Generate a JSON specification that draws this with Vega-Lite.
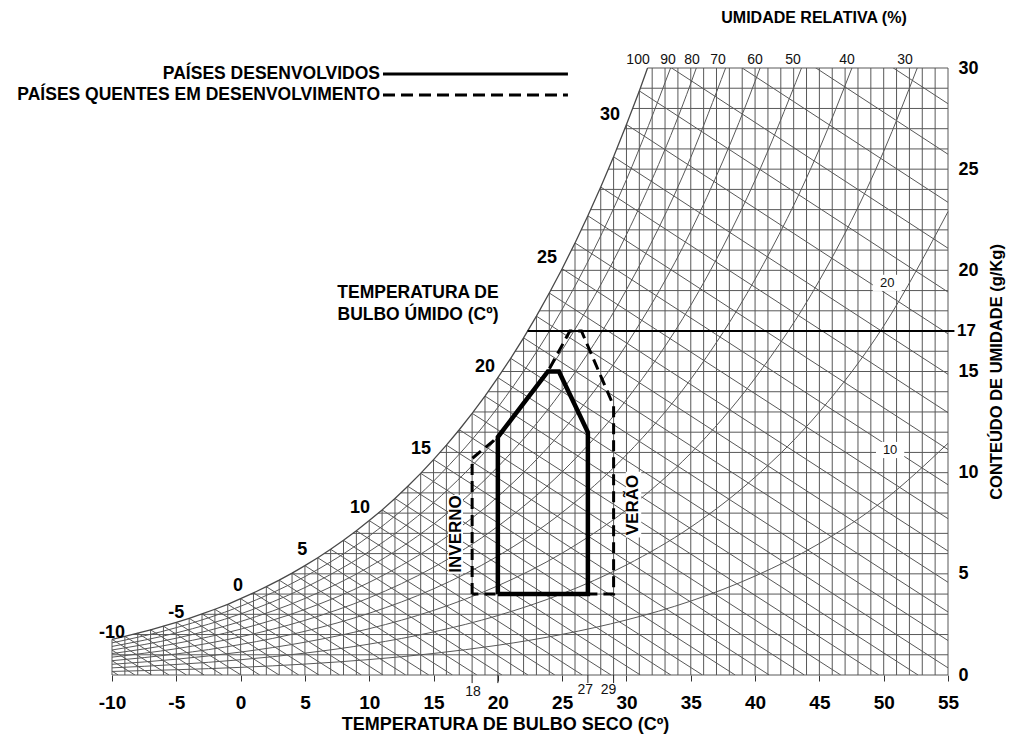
{
  "$schema": "https://vega.github.io/schema/vega-lite/v6.json",
  "width": 836,
  "height": 607,
  "autosize": {"type": "none"},
  "padding": {"left": 112, "top": 68, "right": 62, "bottom": 65},
  "background": "white",
  "config": {"view": {"stroke": null}, "font": "Liberation Sans"},
  "datasets": {
    "sat": [
      {"t": -10, "w": 1.764}, {"t": -9, "w": 1.909}, {"t": -8, "w": 2.066}, {"t": -7, "w": 2.233}, {"t": -6, "w": 2.412},
      {"t": -5, "w": 2.6}, {"t": -4, "w": 2.803}, {"t": -3, "w": 3.018}, {"t": -2, "w": 3.25}, {"t": -1, "w": 3.495},
      {"t": 0, "w": 3.775}, {"t": 1, "w": 4.06}, {"t": 2, "w": 4.364}, {"t": 3, "w": 4.689}, {"t": 4, "w": 5.034},
      {"t": 5, "w": 5.403}, {"t": 6, "w": 5.793}, {"t": 7, "w": 6.212}, {"t": 8, "w": 6.657}, {"t": 9, "w": 7.128},
      {"t": 10, "w": 7.631}, {"t": 11, "w": 8.16}, {"t": 12, "w": 8.727}, {"t": 13, "w": 9.327}, {"t": 14, "w": 9.966},
      {"t": 15, "w": 10.646}, {"t": 16, "w": 11.364}, {"t": 17, "w": 12.122}, {"t": 18, "w": 12.934}, {"t": 19, "w": 13.785},
      {"t": 20, "w": 14.697}, {"t": 21, "w": 15.651}, {"t": 22, "w": 16.666}, {"t": 23, "w": 17.735}, {"t": 24, "w": 18.88},
      {"t": 25, "w": 20.081}, {"t": 26, "w": 21.354}, {"t": 27, "w": 22.695}, {"t": 28, "w": 24.117}, {"t": 29, "w": 25.61},
      {"t": 30, "w": 27.205}, {"t": 31, "w": 28.868}, {"t": 31.64, "w": 30}
    ],
    "vgrid": [
      {"t": -10, "w": 0, "w2": 1.764}, {"t": -9, "w": 0, "w2": 1.909}, {"t": -8, "w": 0, "w2": 2.066}, {"t": -7, "w": 0, "w2": 2.233},
      {"t": -6, "w": 0, "w2": 2.412}, {"t": -5, "w": 0, "w2": 2.6}, {"t": -4, "w": 0, "w2": 2.803}, {"t": -3, "w": 0, "w2": 3.018},
      {"t": -2, "w": 0, "w2": 3.25}, {"t": -1, "w": 0, "w2": 3.495}, {"t": 0, "w": 0, "w2": 3.775}, {"t": 1, "w": 0, "w2": 4.06},
      {"t": 2, "w": 0, "w2": 4.364}, {"t": 3, "w": 0, "w2": 4.689}, {"t": 4, "w": 0, "w2": 5.034}, {"t": 5, "w": 0, "w2": 5.403},
      {"t": 6, "w": 0, "w2": 5.793}, {"t": 7, "w": 0, "w2": 6.212}, {"t": 8, "w": 0, "w2": 6.657}, {"t": 9, "w": 0, "w2": 7.128},
      {"t": 10, "w": 0, "w2": 7.631}, {"t": 11, "w": 0, "w2": 8.16}, {"t": 12, "w": 0, "w2": 8.727}, {"t": 13, "w": 0, "w2": 9.327},
      {"t": 14, "w": 0, "w2": 9.966}, {"t": 15, "w": 0, "w2": 10.646}, {"t": 16, "w": 0, "w2": 11.364}, {"t": 17, "w": 0, "w2": 12.122},
      {"t": 18, "w": 0, "w2": 12.934}, {"t": 19, "w": 0, "w2": 13.785}, {"t": 20, "w": 0, "w2": 14.697}, {"t": 21, "w": 0, "w2": 15.651},
      {"t": 22, "w": 0, "w2": 16.666}, {"t": 23, "w": 0, "w2": 17.735}, {"t": 24, "w": 0, "w2": 18.88}, {"t": 25, "w": 0, "w2": 20.081},
      {"t": 26, "w": 0, "w2": 21.354}, {"t": 27, "w": 0, "w2": 22.695}, {"t": 28, "w": 0, "w2": 24.117}, {"t": 29, "w": 0, "w2": 25.61},
      {"t": 30, "w": 0, "w2": 27.205}, {"t": 31, "w": 0, "w2": 28.868}, {"t": 32, "w": 0, "w2": 30}, {"t": 33, "w": 0, "w2": 30},
      {"t": 34, "w": 0, "w2": 30}, {"t": 35, "w": 0, "w2": 30}, {"t": 36, "w": 0, "w2": 30}, {"t": 37, "w": 0, "w2": 30},
      {"t": 38, "w": 0, "w2": 30}, {"t": 39, "w": 0, "w2": 30}, {"t": 40, "w": 0, "w2": 30}, {"t": 41, "w": 0, "w2": 30},
      {"t": 42, "w": 0, "w2": 30}, {"t": 43, "w": 0, "w2": 30}, {"t": 44, "w": 0, "w2": 30}, {"t": 45, "w": 0, "w2": 30},
      {"t": 46, "w": 0, "w2": 30}, {"t": 47, "w": 0, "w2": 30}, {"t": 48, "w": 0, "w2": 30}, {"t": 49, "w": 0, "w2": 30},
      {"t": 50, "w": 0, "w2": 30}, {"t": 51, "w": 0, "w2": 30}, {"t": 52, "w": 0, "w2": 30}, {"t": 53, "w": 0, "w2": 30},
      {"t": 54, "w": 0, "w2": 30}, {"t": 55, "w": 0, "w2": 30}
    ],
    "hgrid": [
      {"w": 0, "t": -10, "t2": 55}, {"w": 1, "t": -10, "t2": 55}, {"w": 2, "t": -8.42, "t2": 55}, {"w": 3, "t": -3.08, "t2": 55},
      {"w": 4, "t": 0.79, "t2": 55}, {"w": 5, "t": 3.9, "t2": 55}, {"w": 6, "t": 6.49, "t2": 55}, {"w": 7, "t": 8.73, "t2": 55},
      {"w": 8, "t": 10.7, "t2": 55}, {"w": 9, "t": 12.46, "t2": 55}, {"w": 10, "t": 14.05, "t2": 55}, {"w": 11, "t": 15.49, "t2": 55},
      {"w": 12, "t": 16.84, "t2": 55}, {"w": 13, "t": 18.08, "t2": 55}, {"w": 14, "t": 19.24, "t2": 55}, {"w": 15, "t": 20.32, "t2": 55},
      {"w": 16, "t": 21.34, "t2": 55}, {"w": 17, "t": 22.31, "t2": 55}, {"w": 18, "t": 23.23, "t2": 55}, {"w": 19, "t": 24.1, "t2": 55},
      {"w": 20, "t": 24.93, "t2": 55}, {"w": 21, "t": 25.72, "t2": 55}, {"w": 22, "t": 26.48, "t2": 55}, {"w": 23, "t": 27.21, "t2": 55},
      {"w": 24, "t": 27.92, "t2": 55}, {"w": 25, "t": 28.59, "t2": 55}, {"w": 26, "t": 29.24, "t2": 55}, {"w": 27, "t": 29.87, "t2": 55},
      {"w": 28, "t": 30.48, "t2": 55}, {"w": 29, "t": 31.08, "t2": 55}, {"w": 30, "t": 31.64, "t2": 55}
    ],
    "wetbulb": [
      {"t": -13, "w": 1.385, "t2": -9.52, "w2": 0}, {"t": -12, "w": 1.502, "t2": -8.22, "w2": 0}, {"t": -11, "w": 1.627, "t2": -6.91, "w2": 0},
      {"t": -10, "w": 1.764, "t2": -5.57, "w2": 0}, {"t": -9, "w": 1.909, "t2": -4.21, "w2": 0}, {"t": -8, "w": 2.066, "t2": -2.83, "w2": 0},
      {"t": -7, "w": 2.233, "t2": -1.41, "w2": 0}, {"t": -6, "w": 2.412, "t2": 0.03, "w2": 0}, {"t": -5, "w": 2.6, "t2": 1.49, "w2": 0},
      {"t": -4, "w": 2.803, "t2": 2.99, "w2": 0}, {"t": -3, "w": 3.018, "t2": 4.52, "w2": 0}, {"t": -2, "w": 3.25, "t2": 6.09, "w2": 0},
      {"t": -1, "w": 3.495, "t2": 7.7, "w2": 0}, {"t": 0, "w": 3.775, "t2": 9.39, "w2": 0}, {"t": 1, "w": 4.06, "t2": 11.08, "w2": 0},
      {"t": 2, "w": 4.364, "t2": 12.83, "w2": 0}, {"t": 3, "w": 4.689, "t2": 14.63, "w2": 0}, {"t": 4, "w": 5.034, "t2": 16.47, "w2": 0},
      {"t": 5, "w": 5.403, "t2": 18.37, "w2": 0}, {"t": 6, "w": 5.793, "t2": 20.32, "w2": 0}, {"t": 7, "w": 6.212, "t2": 22.34, "w2": 0},
      {"t": 8, "w": 6.657, "t2": 24.43, "w2": 0}, {"t": 9, "w": 7.128, "t2": 26.57, "w2": 0}, {"t": 10, "w": 7.631, "t2": 28.8, "w2": 0},
      {"t": 11, "w": 8.16, "t2": 31.08, "w2": 0}, {"t": 12, "w": 8.727, "t2": 33.45, "w2": 0}, {"t": 13, "w": 9.327, "t2": 35.91, "w2": 0},
      {"t": 14, "w": 9.966, "t2": 38.45, "w2": 0}, {"t": 15, "w": 10.646, "t2": 41.1, "w2": 0}, {"t": 16, "w": 11.364, "t2": 43.83, "w2": 0},
      {"t": 17, "w": 12.122, "t2": 46.66, "w2": 0}, {"t": 18, "w": 12.934, "t2": 49.62, "w2": 0}, {"t": 19, "w": 13.785, "t2": 52.67, "w2": 0},
      {"t": 20, "w": 14.697, "t2": 55.86, "w2": 0}, {"t": 21, "w": 15.651, "t2": 59.15, "w2": 0}, {"t": 22, "w": 16.666, "t2": 62.59, "w2": 0},
      {"t": 23, "w": 17.735, "t2": 66.15, "w2": 0}, {"t": 24, "w": 18.88, "t2": 69.89, "w2": 0}, {"t": 25, "w": 20.081, "t2": 73.76, "w2": 0},
      {"t": 26, "w": 21.354, "t2": 77.81, "w2": 0}, {"t": 27, "w": 22.695, "t2": 82.01, "w2": 0}, {"t": 28, "w": 24.117, "t2": 86.4, "w2": 0},
      {"t": 29, "w": 25.61, "t2": 90.95, "w2": 0}, {"t": 30, "w": 27.205, "t2": 95.75, "w2": 0}, {"t": 31, "w": 28.868, "t2": 100.7, "w2": 0},
      {"t": 32, "w": 30.627, "t2": 105.88, "w2": 0}, {"t": 33, "w": 32.49, "t2": 111.3, "w2": 0}, {"t": 34, "w": 34.46, "t2": 116.96, "w2": 0},
      {"t": 35, "w": 36.55, "t2": 122.91, "w2": 0}, {"t": 36, "w": 38.77, "t2": 129.16, "w2": 0}
    ],
    "rh": [
      {"rh": 90, "t": -10, "w": 1.588}, {"rh": 90, "t": -5, "w": 2.34}, {"rh": 90, "t": 0, "w": 3.398}, {"rh": 90, "t": 5, "w": 4.863}, {"rh": 90, "t": 10, "w": 6.868}, {"rh": 90, "t": 15, "w": 9.581}, {"rh": 90, "t": 20, "w": 13.227}, {"rh": 90, "t": 25, "w": 18.073}, {"rh": 90, "t": 30, "w": 24.485}, {"rh": 90, "t": 33.43, "w": 30},
      {"rh": 80, "t": -10, "w": 1.411}, {"rh": 80, "t": -5, "w": 2.08}, {"rh": 80, "t": 0, "w": 3.02}, {"rh": 80, "t": 5, "w": 4.322}, {"rh": 80, "t": 10, "w": 6.105}, {"rh": 80, "t": 15, "w": 8.517}, {"rh": 80, "t": 20, "w": 11.758}, {"rh": 80, "t": 25, "w": 16.065}, {"rh": 80, "t": 30, "w": 21.764}, {"rh": 80, "t": 35, "w": 29.24}, {"rh": 80, "t": 35.43, "w": 30},
      {"rh": 70, "t": -10, "w": 1.235}, {"rh": 70, "t": -5, "w": 1.82}, {"rh": 70, "t": 0, "w": 2.643}, {"rh": 70, "t": 5, "w": 3.782}, {"rh": 70, "t": 10, "w": 5.342}, {"rh": 70, "t": 15, "w": 7.452}, {"rh": 70, "t": 20, "w": 10.288}, {"rh": 70, "t": 25, "w": 14.057}, {"rh": 70, "t": 30, "w": 19.044}, {"rh": 70, "t": 35, "w": 25.585}, {"rh": 70, "t": 37.71, "w": 30},
      {"rh": 60, "t": -10, "w": 1.058}, {"rh": 60, "t": -5, "w": 1.56}, {"rh": 60, "t": 0, "w": 2.265}, {"rh": 60, "t": 5, "w": 3.242}, {"rh": 60, "t": 10, "w": 4.579}, {"rh": 60, "t": 15, "w": 6.388}, {"rh": 60, "t": 20, "w": 8.818}, {"rh": 60, "t": 25, "w": 12.049}, {"rh": 60, "t": 30, "w": 16.323}, {"rh": 60, "t": 35, "w": 21.93}, {"rh": 60, "t": 40, "w": 29.34}, {"rh": 60, "t": 40.39, "w": 30},
      {"rh": 50, "t": -10, "w": 0.882}, {"rh": 50, "t": -5, "w": 1.3}, {"rh": 50, "t": 0, "w": 1.888}, {"rh": 50, "t": 5, "w": 2.702}, {"rh": 50, "t": 10, "w": 3.816}, {"rh": 50, "t": 15, "w": 5.323}, {"rh": 50, "t": 20, "w": 7.349}, {"rh": 50, "t": 25, "w": 10.041}, {"rh": 50, "t": 30, "w": 13.603}, {"rh": 50, "t": 35, "w": 18.275}, {"rh": 50, "t": 40, "w": 24.45}, {"rh": 50, "t": 43.61, "w": 30},
      {"rh": 40, "t": -10, "w": 0.706}, {"rh": 40, "t": -5, "w": 1.04}, {"rh": 40, "t": 0, "w": 1.51}, {"rh": 40, "t": 5, "w": 2.161}, {"rh": 40, "t": 10, "w": 3.052}, {"rh": 40, "t": 15, "w": 4.258}, {"rh": 40, "t": 20, "w": 5.879}, {"rh": 40, "t": 25, "w": 8.032}, {"rh": 40, "t": 30, "w": 10.882}, {"rh": 40, "t": 35, "w": 14.62}, {"rh": 40, "t": 40, "w": 19.56}, {"rh": 40, "t": 45, "w": 26.0}, {"rh": 40, "t": 47.53, "w": 30},
      {"rh": 30, "t": -10, "w": 0.529}, {"rh": 30, "t": -5, "w": 0.78}, {"rh": 30, "t": 0, "w": 1.133}, {"rh": 30, "t": 5, "w": 1.621}, {"rh": 30, "t": 10, "w": 2.289}, {"rh": 30, "t": 15, "w": 3.194}, {"rh": 30, "t": 20, "w": 4.409}, {"rh": 30, "t": 25, "w": 6.024}, {"rh": 30, "t": 30, "w": 8.162}, {"rh": 30, "t": 35, "w": 10.965}, {"rh": 30, "t": 40, "w": 14.67}, {"rh": 30, "t": 45, "w": 19.5}, {"rh": 30, "t": 50, "w": 25.88}, {"rh": 30, "t": 52.61, "w": 30},
      {"rh": 20, "t": -10, "w": 0.353}, {"rh": 20, "t": -5, "w": 0.52}, {"rh": 20, "t": 0, "w": 0.755}, {"rh": 20, "t": 5, "w": 1.081}, {"rh": 20, "t": 10, "w": 1.526}, {"rh": 20, "t": 15, "w": 2.129}, {"rh": 20, "t": 20, "w": 2.939}, {"rh": 20, "t": 25, "w": 4.016}, {"rh": 20, "t": 30, "w": 5.441}, {"rh": 20, "t": 35, "w": 7.31}, {"rh": 20, "t": 40, "w": 9.78}, {"rh": 20, "t": 45, "w": 13.0}, {"rh": 20, "t": 50, "w": 17.25}, {"rh": 20, "t": 55, "w": 22.9},
      {"rh": 10, "t": -10, "w": 0.176}, {"rh": 10, "t": -5, "w": 0.26}, {"rh": 10, "t": 0, "w": 0.378}, {"rh": 10, "t": 5, "w": 0.54}, {"rh": 10, "t": 10, "w": 0.763}, {"rh": 10, "t": 15, "w": 1.065}, {"rh": 10, "t": 20, "w": 1.47}, {"rh": 10, "t": 25, "w": 2.008}, {"rh": 10, "t": 30, "w": 2.721}, {"rh": 10, "t": 35, "w": 3.655}, {"rh": 10, "t": 40, "w": 4.89}, {"rh": 10, "t": 45, "w": 6.5}, {"rh": 10, "t": 50, "w": 8.63}, {"rh": 10, "t": 55, "w": 11.45}
    ],
    "line17": [{"t": 22.31, "t2": 55.5, "w": 17}],
    "ext": [
      {"t": 18, "w": 0, "w2": -0.4}, {"t": 20, "w": 0, "w2": -0.4}, {"t": 27, "w": 0, "w2": -0.4}, {"t": 29, "w": 0, "w2": -0.4}
    ],
    "boxes": [
      {"t": 16.13, "t2": 17.29, "w": 5.0, "w2": 8.9},
      {"t": 29.95, "t2": 31.15, "w": 6.8, "w2": 10.05},
      {"t": 49.15, "t2": 51.4, "w": 18.98, "w2": 19.78},
      {"t": 49.4, "t2": 51.6, "w": 10.72, "w2": 11.52}
    ],
    "zoneHot": [
      {"i": 1, "t": 18, "w": 4}, {"i": 2, "t": 18, "w": 10.7}, {"i": 3, "t": 20, "w": 11.76}, {"i": 4, "t": 23.89, "w": 15},
      {"i": 5, "t": 25.6, "w": 17}, {"i": 6, "t": 26.5, "w": 17}, {"i": 7, "t": 29, "w": 13.3}, {"i": 8, "t": 29, "w": 4}, {"i": 9, "t": 18, "w": 4}
    ],
    "zoneDev": [
      {"i": 1, "t": 20, "w": 4}, {"i": 2, "t": 20, "w": 11.76}, {"i": 3, "t": 23.89, "w": 15}, {"i": 4, "t": 24.75, "w": 15},
      {"i": 5, "t": 27, "w": 12}, {"i": 6, "t": 27, "w": 4}, {"i": 7, "t": 20, "w": 4}
    ],
    "legSolid": [{"t": 11.07, "t2": 25.45, "w": 29.7}],
    "legDash": [{"t": 11.07, "t2": 25.45, "w": 28.67}],
    "wbLabels": [
      {"label": "30", "t": 28.72, "w": 27.68}, {"label": "25", "t": 23.82, "w": 20.61}, {"label": "20", "t": 19.0, "w": 15.22},
      {"label": "15", "t": 14.02, "w": 11.17}, {"label": "10", "t": 9.28, "w": 8.25}, {"label": "5", "t": 4.8, "w": 6.2},
      {"label": "0", "t": -0.2, "w": 4.4}, {"label": "-5", "t": -5.0, "w": 3.05}, {"label": "-10", "t": -10.0, "w": 2.08}
    ],
    "boldCenter": [
      {"label": "TEMPERATURA DE", "t": 13.79, "w": 18.88},
      {"label": "BULBO ÚMIDO (Cº)", "t": 13.79, "w": 17.79}
    ],
    "topTitle": [{"label": "UMIDADE RELATIVA (%)", "t": 44.58, "w": 32.47}],
    "legendText": [
      {"label": "PAÍSES DESENVOLVIDOS", "t": 10.84, "w": 29.7},
      {"label": "PAÍSES QUENTES EM DESENVOLVIMENTO", "t": 10.84, "w": 28.67}
    ],
    "label17": [{"label": "17", "t": 55.7, "w": 17}],
    "rhTop": [
      {"label": "100", "t": 30.9, "w": 30.4}, {"label": "90", "t": 33.23, "w": 30.4}, {"label": "80", "t": 35.09, "w": 30.4},
      {"label": "70", "t": 37.12, "w": 30.4}, {"label": "60", "t": 39.99, "w": 30.4}, {"label": "50", "t": 42.95, "w": 30.4},
      {"label": "40", "t": 47.15, "w": 30.4}, {"label": "30", "t": 51.65, "w": 30.4}
    ],
    "rhInner": [{"label": "20", "t": 50.27, "w": 19.38}, {"label": "10", "t": 50.5, "w": 11.12}],
    "smallTicks": [{"label": "18", "t": 18.07, "w": -0.84}, {"label": "27", "t": 26.8, "w": -0.74}, {"label": "29", "t": 28.6, "w": -0.74}],
    "vertText": [{"label": "INVERNO", "t": 16.71, "w": 6.97}, {"label": "VERÃO", "t": 30.51, "w": 8.4}]
  },
  "encoding": {
    "x": {
      "field": "t", "type": "quantitative",
      "scale": {"domain": [-10, 55], "nice": false, "zero": false},
      "axis": {
        "orient": "bottom", "values": [-10, -5, 0, 5, 10, 15, 20, 25, 30, 35, 40, 45, 50, 55],
        "domain": false, "grid": false, "ticks": true, "tickSize": 6, "tickColor": "#333",
        "labelExpr": "replace(datum.label, '\u2212', '-')",
        "labelFont": "Liberation Sans", "labelFontWeight": "bold", "labelFontSize": 19, "labelColor": "#000",
        "labelPadding": 12, "labelOverlap": false, "labelFlush": false, "labelBound": false,
        "title": "TEMPERATURA DE BULBO SECO (Cº)", "titleFont": "Liberation Sans", "titleFontSize": 18,
        "titleFontWeight": "bold", "titleColor": "#000", "titlePadding": 3, "titleX": 393
      }
    },
    "y": {
      "field": "w", "type": "quantitative",
      "scale": {"domain": [0, 30], "nice": false, "zero": false},
      "axis": {
        "orient": "right", "values": [0, 5, 10, 15, 20, 25, 30],
        "domain": false, "grid": false, "ticks": false,
        "labelFont": "Liberation Sans", "labelFontWeight": "bold", "labelFontSize": 18, "labelColor": "#000",
        "labelPadding": 10, "labelOverlap": false, "labelFlush": false, "labelBound": false,
        "title": "CONTEÚDO DE UMIDADE (g/Kg)", "titleFont": "Liberation Sans", "titleFontSize": 16.5,
        "titleFontWeight": "bold", "titleColor": "#000", "titleAngle": 270, "titlePadding": 26
      }
    }
  },
  "layer": [
    {"data": {"name": "vgrid"}, "mark": {"type": "rule", "color": "#585858", "strokeWidth": 1}, "encoding": {"y2": {"field": "w2"}}},
    {"data": {"name": "hgrid"}, "mark": {"type": "rule", "color": "#585858", "strokeWidth": 1}, "encoding": {"x2": {"field": "t2"}}},
    {"data": {"name": "wetbulb"}, "mark": {"type": "rule", "color": "#585858", "strokeWidth": 1, "clip": true}, "encoding": {"x2": {"field": "t2"}, "y2": {"field": "w2"}}},
    {"data": {"name": "rh"}, "mark": {"type": "line", "color": "#585858", "strokeWidth": 1, "interpolate": "monotone"}, "encoding": {"detail": {"field": "rh"}}},
    {"data": {"name": "sat"}, "mark": {"type": "line", "color": "#484848", "strokeWidth": 1.3}, "encoding": {}},
    {"data": {"name": "line17"}, "mark": {"type": "rule", "color": "#000", "strokeWidth": 2}, "encoding": {"x2": {"field": "t2"}}},
    {"data": {"name": "ext"}, "mark": {"type": "rule", "color": "#222", "strokeWidth": 1}, "encoding": {"y2": {"field": "w2"}}},
    {"data": {"name": "boxes"}, "mark": {"type": "rect", "color": "white", "opacity": 1}, "encoding": {"x2": {"field": "t2"}, "y2": {"field": "w2"}}},
    {"data": {"name": "zoneHot"}, "mark": {"type": "line", "color": "#000", "strokeWidth": 3, "strokeDash": [11, 6]}, "encoding": {"order": {"field": "i"}}},
    {"data": {"name": "zoneDev"}, "mark": {"type": "line", "color": "#000", "strokeWidth": 4.5, "strokeJoin": "miter"}, "encoding": {"order": {"field": "i"}}},
    {"data": {"name": "legSolid"}, "mark": {"type": "rule", "color": "#000", "strokeWidth": 3}, "encoding": {"x2": {"field": "t2"}}},
    {"data": {"name": "legDash"}, "mark": {"type": "rule", "color": "#000", "strokeWidth": 3, "strokeDash": [12, 6]}, "encoding": {"x2": {"field": "t2"}}},
    {"data": {"name": "wbLabels"}, "mark": {"type": "text", "font": "Liberation Sans", "fontWeight": "bold", "fontSize": 18, "color": "#000", "baseline": "middle", "align": "center"}, "encoding": {"text": {"field": "label"}}},
    {"data": {"name": "boldCenter"}, "mark": {"type": "text", "font": "Liberation Sans", "fontWeight": "bold", "fontSize": 17.5, "color": "#000", "baseline": "middle", "align": "center"}, "encoding": {"text": {"field": "label"}}},
    {"data": {"name": "topTitle"}, "mark": {"type": "text", "font": "Liberation Sans", "fontWeight": "bold", "fontSize": 16, "color": "#000", "baseline": "middle", "align": "center"}, "encoding": {"text": {"field": "label"}}},
    {"data": {"name": "legendText"}, "mark": {"type": "text", "font": "Liberation Sans", "fontWeight": "bold", "fontSize": 17.5, "color": "#000", "baseline": "middle", "align": "right"}, "encoding": {"text": {"field": "label"}}},
    {"data": {"name": "label17"}, "mark": {"type": "text", "font": "Liberation Sans", "fontWeight": "bold", "fontSize": 17, "color": "#000", "baseline": "middle", "align": "left"}, "encoding": {"text": {"field": "label"}}},
    {"data": {"name": "rhTop"}, "mark": {"type": "text", "font": "Liberation Sans", "fontSize": 14, "color": "#111", "baseline": "middle", "align": "center"}, "encoding": {"text": {"field": "label"}}},
    {"data": {"name": "rhInner"}, "mark": {"type": "text", "font": "Liberation Sans", "fontSize": 13, "color": "#111", "baseline": "middle", "align": "center"}, "encoding": {"text": {"field": "label"}}},
    {"data": {"name": "smallTicks"}, "mark": {"type": "text", "font": "Liberation Sans", "fontSize": 14, "color": "#111", "baseline": "middle", "align": "center"}, "encoding": {"text": {"field": "label"}}},
    {"data": {"name": "vertText"}, "mark": {"type": "text", "font": "Liberation Sans", "fontWeight": "bold", "fontSize": 17, "color": "#000", "baseline": "middle", "align": "center", "angle": 270}, "encoding": {"text": {"field": "label"}}}
  ]
}
